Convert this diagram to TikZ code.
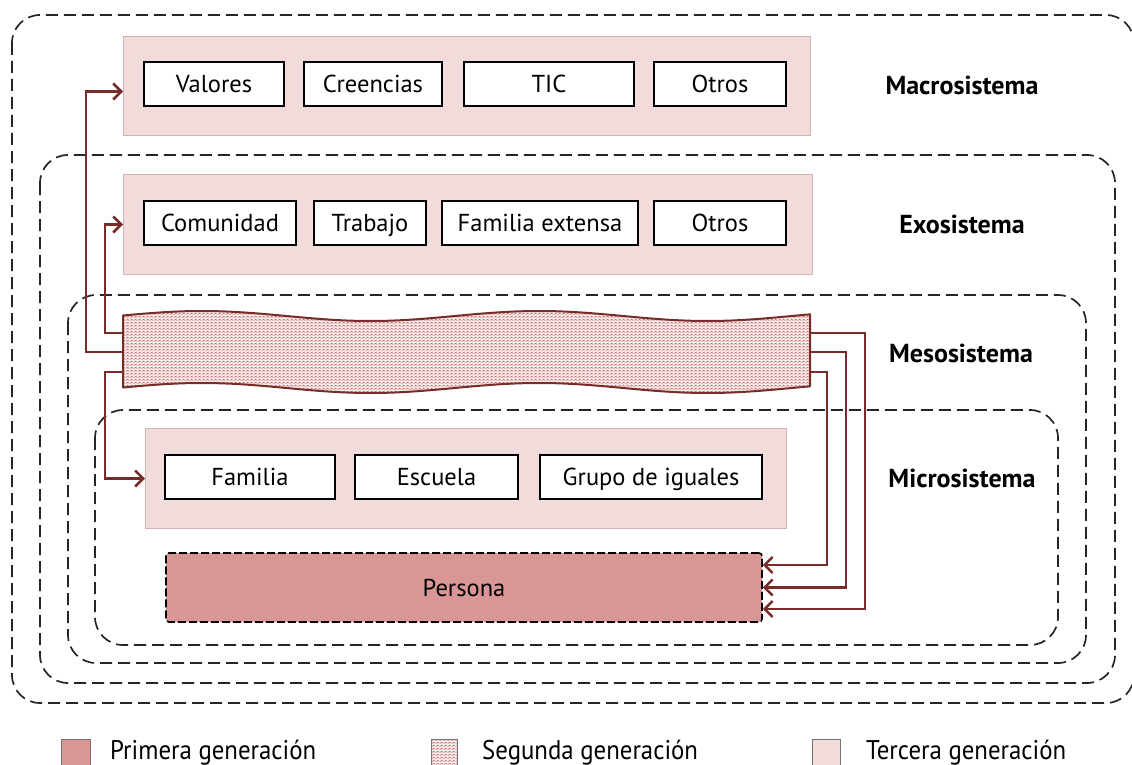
\documentclass[tikz,border=0pt]{standalone}
\usepackage{fontspec}
\setmainfont{PT Sans}
\newfontfamily\legfont[FakeStretch=0.92]{PT Sans}
\usetikzlibrary{arrows.meta,patterns.meta}
\definecolor{pinkbg}{HTML}{F2DCDB}
\definecolor{pinkline}{HTML}{D2B3B2}
\definecolor{personafill}{HTML}{D99694}
\definecolor{maroonc}{HTML}{772C2A}
\definecolor{patc}{HTML}{C0605E}
\definecolor{bandbg}{HTML}{F7ECEC}
\tikzdeclarepattern{name=zigzag, type=uncolored,
  bounding box={(0pt,0pt) and (3.6pt,3pt)}, tile size={(3.6pt,3pt)},
  code={\draw[line width=0.6pt] (0pt,0.6pt) -- (1.8pt,2.4pt) -- (3.6pt,0.6pt);}}
\begin{document}
\begin{tikzpicture}[x=1pt,y=-1pt,
  font=\fontsize{24.5}{28}\selectfont,
  sys/.style={draw=black!85, dash pattern=on 12pt off 6pt, line width=1.7pt, rounded corners=28pt},
  grp/.style={draw=pinkline, fill=pinkbg, line width=1pt, inner sep=0pt, anchor=north west},
  wbox/.style={draw=black, fill=white, line width=1.7pt, minimum height=44pt, inner sep=0pt,
    text height=20pt, text depth=3pt},
  lbl/.style={font=\fontsize{26}{30}\selectfont\bfseries},
  arr/.style={draw=maroonc, line width=2.5pt, -{Straight Barb[length=8pt,width=16pt,line width=2.5pt]}},
  legtxt/.style={font=\legfont\fontsize{27}{30}\selectfont, anchor=base west, inner sep=0pt},
  legbox/.style={draw=black!55, line width=0.9pt}]
\useasboundingbox (0,0) rectangle (1132,765);

% system frames
\draw[sys] (12,15) rectangle (1134,703);
\draw[sys] (40,155) rectangle (1115,683);
\draw[sys] (68,295) rectangle (1086,663);
\draw[sys] (95,410) rectangle (1058,645);

% Macrosistema
\node[grp, minimum width=687pt, minimum height=99pt] (macro) at (123,36) {};
\node[wbox, minimum width=140pt] (valores) at (214,84) {Valores};
\node[wbox, minimum width=138pt] (creencias) at (373,84) {Creencias};
\node[wbox, minimum width=170pt] (tic) at (549,84) {TIC};
\node[wbox, minimum width=132pt] (otros1) at (720,84) {Otros};
\node[lbl] (lmacro) at (962,85) {Macrosistema};

% Exosistema
\node[grp, minimum width=689pt, minimum height=100pt] (exo) at (123,174) {};
\node[wbox, minimum width=152pt] (comunidad) at (220,223) {Comunidad};
\node[wbox, minimum width=112pt] (trabajo) at (370,223) {Trabajo};
\node[wbox, minimum width=196pt] (famext) at (540,223) {Familia extensa};
\node[wbox, minimum width=132pt] (otros2) at (720,223) {Otros};
\node[lbl] (lexo) at (962,224) {Exosistema};

% Mesosistema band
\fill[bandbg] plot[domain=123:810,samples=90] (\x,{316-5*cos((\x-202)/337*360)})
  -- plot[domain=810:123,samples=90] (\x,{388-5*cos((\x-202)/337*360)}) -- cycle;
\fill[pattern=zigzag, pattern color=patc] plot[domain=123:810,samples=90] (\x,{316-5*cos((\x-202)/337*360)})
  -- plot[domain=810:123,samples=90] (\x,{388-5*cos((\x-202)/337*360)}) -- cycle;
\draw[maroonc, line width=2pt, line join=round] plot[domain=123:810,samples=90] (\x,{316-5*cos((\x-202)/337*360)})
  -- plot[domain=810:123,samples=90] (\x,{388-5*cos((\x-202)/337*360)}) -- cycle;
\node[lbl] (lmeso) at (961,353) {Mesosistema};
\coordinate (bl1) at (123,333);
\coordinate (bl2) at (123,352);
\coordinate (bl3) at (123,372);
\coordinate (br1) at (810,333);
\coordinate (br2) at (810,352);
\coordinate (br3) at (810,372);

% Microsistema
\node[grp, minimum width=641pt, minimum height=100pt] (micro) at (145,428) {};
\node[wbox, minimum width=170pt] (familia) at (250,477) {Familia};
\node[wbox, minimum width=163pt] (escuela) at (436.5,477) {Escuela};
\node[wbox, minimum width=222pt] (grupo) at (651,477) {Grupo de iguales};
\node[lbl] (lmicro) at (962,478) {Microsistema};

% Persona
\node[draw=black, fill=personafill, line width=1.6pt, dash pattern=on 8pt off 3pt,
  rounded corners=3pt, minimum width=596pt, minimum height=69pt, inner sep=0pt,
  text height=20pt, text depth=3pt]
  (persona) at (464,587.5) {Persona};

% connectors
\draw[arr] (bl2) -- ++(-37,0) |- ([yshift=-5.5pt]macro.west);
\draw[arr] (bl1) -- ++(-18,0) |- (exo.west);
\draw[arr] (bl3) -- ++(-18,0) |- (micro.west);
\draw[arr] (br1) -- ++(55,0) |- ([yshift=-21.5pt]persona.east);
\draw[arr] (br2) -- ++(36,0) |- (persona.east);
\draw[arr] (br3) -- ++(17,0) |- ([yshift=22.5pt]persona.east);

% legend
\draw[legbox, fill=personafill] (61,739) rectangle (90,768);
\node[legtxt] (leg1) at (110,759) {Primera generación};
\fill[bandbg] (431,739) rectangle (457,768);
\fill[pattern=zigzag, pattern color=patc] (431,739) rectangle (457,768);
\draw[legbox] (431,739) rectangle (457,768);
\node[legtxt] (leg2) at (482,759) {Segunda generación};
\draw[legbox, fill=pinkbg] (812,739) rectangle (840,768);
\node[legtxt] (leg3) at (866,759) {Tercera generación};
\end{tikzpicture}
\end{document}
